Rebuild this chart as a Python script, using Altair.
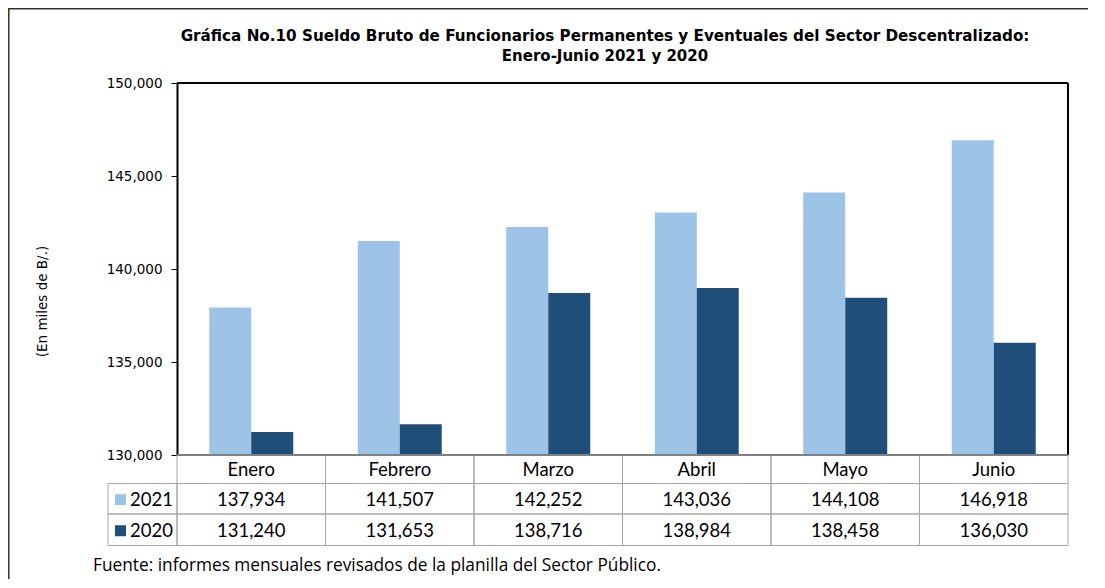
import altair as alt
import pandas as pd

months = ["Enero", "Febrero", "Marzo", "Abril", "Mayo", "Junio"]
years = ["2021", "2020"]
v2021 = [137934, 141507, 142252, 143036, 144108, 146918]
v2020 = [131240, 131653, 138716, 138984, 138458, 136030]
colors = ["#9DC3E6", "#1F4E79"]
y_ticks = [130000, 135000, 140000, 145000, 150000]
title_lines = [
    "Gráfica No.10 Sueldo Bruto de Funcionarios Permanentes y Eventuales del Sector Descentralizado:",
    "Enero-Junio 2021 y 2020",
]
y_title = "(En miles de B/.)"
footnote = "Fuente: informes mensuales revisados de la planilla del Sector Público."

W, H = 891, 372

rows = []
for m, a, b in zip(months, v2021, v2020):
    rows.append({"month": m, "year": "2021", "value": a})
    rows.append({"month": m, "year": "2020", "value": b})
df = pd.DataFrame(rows)
mdf = pd.DataFrame({"month": months})
ydf = pd.DataFrame({"year": years})
one = pd.DataFrame({"k": [0]})

xscale = alt.Scale(domain=months, paddingInner=0, paddingOuter=0)
cscale = alt.Scale(domain=years, range=colors)
X = alt.X("month:N", scale=xscale, axis=None)

yaxis = alt.Axis(
    values=y_ticks, format=",.0f", grid=False,
    labelFont="DejaVu Sans", labelFontSize=13.5, labelColor="black",
    tickColor="black", tickSize=6, tickWidth=1,
    domainColor="black", domainWidth=2, labelPadding=9,
    title=y_title, titleFont="DejaVu Sans", titleFontSize=13.5,
    titleFontWeight="normal", titleColor="black", titleAngle=270,
    titleX=-135, titleY=218, titleBaseline="middle", titleAlign="center",
)

bars = alt.Chart(df).mark_bar().encode(
    x=X,
    xOffset=alt.XOffset("year:N", scale=alt.Scale(domain=years, paddingInner=0, paddingOuter=0.768)),
    y=alt.Y("value:Q", scale=alt.Scale(domain=[130000, 150000], zero=False, nice=False), axis=yaxis),
    y2=alt.datum(130000),
    color=alt.Color("year:N", scale=cscale, legend=None),
)

top_rule = alt.Chart(one).mark_rule(color="black", strokeWidth=2).encode(
    x=alt.value(0), x2=alt.value(W), y=alt.value(0))
right_rule = alt.Chart(one).mark_rule(color="black", strokeWidth=2).encode(
    x=alt.value(W), y=alt.value(0), y2=alt.value(H))

GRID = "#A6A6A6"
def cell(y0, y1):
    return alt.Chart(mdf).mark_rect(fillOpacity=0, stroke=GRID, strokeWidth=1).encode(
        x=X, y=alt.value(y0), y2=alt.value(y1))

r0, r1, r2, r3 = H, H + 28.5, H + 59, H + 90.5
cells = [cell(r0, r1), cell(r1, r2), cell(r2, r3)]
left_cells = [
    alt.Chart(one).mark_rect(fillOpacity=0, stroke=GRID, strokeWidth=1).encode(
        x=alt.value(-69), x2=alt.value(0), y=alt.value(a), y2=alt.value(b))
    for a, b in [(r1, r2), (r2, r3)]
]
bottom_rule = alt.Chart(one).mark_rule(color="#808080", strokeWidth=2).encode(
    x=alt.value(0), x2=alt.value(W), y=alt.value(H))

TF = "Lato"
TS = 18.5
header = alt.Chart(mdf).mark_text(font=TF, fontSize=TS, color="black", baseline="middle").encode(
    x=X, y=alt.value((r0 + r1) / 2 + 1), text="month:N")
val_layers = []
leg_layers = []
for yr, (a, b) in zip(years, [(r1, r2), (r2, r3)]):
    cy = (a + b) / 2 + 1
    val_layers.append(
        alt.Chart(df).transform_filter(alt.datum.year == yr)
        .mark_text(font=TF, fontSize=TS, color="black", baseline="middle")
        .encode(x=X, y=alt.value(cy), text=alt.Text("value:Q", format=","))
    )
    sub = ydf[ydf.year == yr]
    leg_layers.append(
        alt.Chart(sub).mark_square(size=121, opacity=1).encode(
            x=alt.value(-56.5), y=alt.value(cy),
            color=alt.Color("year:N", scale=cscale, legend=None))
    )
    leg_layers.append(
        alt.Chart(sub).mark_text(font=TF, fontSize=TS, color="black", align="left", baseline="middle").encode(
            x=alt.value(-47), y=alt.value(cy), text="year:N")
    )

tdf = pd.DataFrame({"t": title_lines})
t1 = alt.Chart(tdf.iloc[[0]]).mark_text(font="DejaVu Sans", fontSize=15.2, fontWeight="bold",
                                        color="black", align="center", baseline="alphabetic").encode(
    x=alt.value(428), y=alt.value(-42), text="t:N")
t2 = alt.Chart(tdf.iloc[[1]]).mark_text(font="DejaVu Sans", fontSize=15, fontWeight="bold",
                                        color="black", align="center", baseline="alphabetic").encode(
    x=alt.value(428), y=alt.value(-22.5), text="t:N")
fn = alt.Chart(pd.DataFrame({"t": [footnote]})).mark_text(
    font="Open Sans", fontSize=17.3, color="black", align="left", baseline="alphabetic").encode(
    x=alt.value(-84), y=alt.value(488), text="t:N")

page_left = alt.Chart(one).mark_rule(color="#33331f", strokeWidth=1.5).encode(
    x=alt.value(-168.2), y=alt.value(-75), y2=alt.value(500))
page_top = alt.Chart(one).mark_rule(color="#33331f", strokeWidth=1.5).encode(
    x=alt.value(-169), x2=alt.value(W + 29), y=alt.value(-74.2))

chart = alt.layer(
    *cells, *left_cells, bars, top_rule, right_rule, bottom_rule,
    header, *val_layers, *leg_layers, t1, t2, fn, page_left, page_top,
).properties(
    width=W, height=H,
    autosize=alt.AutoSizeParams(type="none"),
    padding={"left": 169, "top": 75, "right": 20, "bottom": 124},
).configure_view(strokeWidth=0)

chart.save("out.html", embed_options={"renderer": "svg", "actions": False})
